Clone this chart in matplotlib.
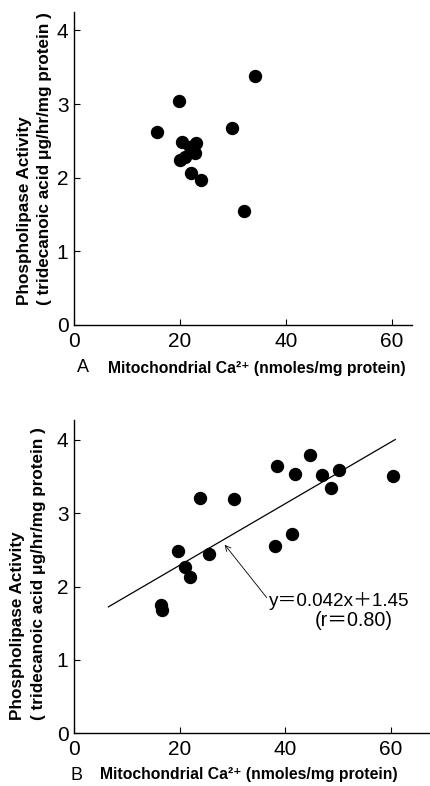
import matplotlib
matplotlib.use("Agg")
import matplotlib.pyplot as plt
import numpy as np

# panel A data
ax_a = [15.6, 19.9, 34.2, 29.8, 20.3, 23.1, 21.9, 22.8, 20.0, 20.9, 22.1, 23.9, 32.1]
ay_a = [2.62, 3.04, 3.38, 2.68, 2.49, 2.47, 2.42, 2.34, 2.24, 2.28, 2.07, 1.97, 1.55]

# panel B data
bx = [16.5, 16.6, 19.6, 21.0, 22.0, 23.9, 25.6, 30.2, 38.1, 38.4, 41.2, 41.9, 44.7, 46.9, 48.6, 50.1, 60.4]
by = [1.75, 1.68, 2.48, 2.27, 2.13, 3.21, 2.44, 3.19, 2.55, 3.64, 2.71, 3.53, 3.79, 3.52, 3.34, 3.59, 3.50]

# regression line given in the figure
slope = 0.042
intercept = 1.45
fit_x = [6.5, 60.8]

xticks = [0, 20, 40, 60]
yticks = [0, 1, 2, 3, 4]

BOLD = ['Liberation Sans', 'DejaVu Sans']
PLAIN = ['Liberation Sans', 'Noto Sans CJK JP', 'DejaVu Sans']

W, H = 430, 786
fig = plt.figure(figsize=(W/100, H/100), dpi=100)

def px(x0, y0, x1, y1):
    # pixel box -> figure fraction [left, bottom, width, height]
    return [x0/W, 1-y1/H, (x1-x0)/W, (y1-y0)/H]

def fit(t, length, vertical=False):
    # scale the font so the text spans about `length` pixels
    r = fig.canvas.get_renderer()
    bb = t.get_window_extent(r)
    cur = bb.height if vertical else bb.width
    t.set_fontsize(t.get_fontsize() * length / cur)
    return t.get_fontsize()

def style(ax, xmax, ymax):
    ax.set_xlim(0, xmax)
    ax.set_ylim(0, ymax)
    for s in ['top', 'right']:
        ax.spines[s].set_visible(False)
    for s in ['left', 'bottom']:
        ax.spines[s].set_linewidth(1.0)
    ax.set_xticks(xticks)
    ax.set_yticks(yticks)
    ax.tick_params(direction='in', length=4, width=0.8)
    ax.tick_params(axis='x', pad=5)
    ax.tick_params(axis='y', pad=4)
    for lab in ax.get_xticklabels() + ax.get_yticklabels():
        lab.set_family(PLAIN)
        lab.set_fontsize(15)

def labels(xl1, xl2, ybot, letter, lx, xstart, ymid):
    t2 = fig.text(xl2/W, 1-ybot/H, '( tridecanoic acid \u03bcg/hr/mg protein )', rotation=90,
                  ha='center', va='bottom', family=BOLD, fontweight='bold', fontsize=12)
    fs = fit(t2, 292, vertical=True)
    fig.text(xl1/W, 1-ybot/H, 'Phospholipase Activity', rotation=90, ha='center', va='bottom',
             family=BOLD, fontweight='bold', fontsize=fs)
    fig.text(lx/W, 1-ymid/H, letter, ha='left', va='center', family=PLAIN, fontsize=13)
    t3 = fig.text(xstart/W, 1-ymid/H, 'Mitochondrial Ca\u00b2\u207a (nmoles/mg protein)', ha='left',
                  va='center', family=BOLD, fontweight='bold', fontsize=12)
    fit(t3, 296)

# panel A
a1 = fig.add_axes(px(74, 12, 412, 325))
a1.plot(ax_a, ay_a, 'o', color='black', markersize=8.6)
style(a1, 63.8, 4.25)
labels(25, 45, 305, 'A', 77, 108, 368)

# panel B
b1 = fig.add_axes(px(74, 420, 429, 733.3))
b1.plot(bx, by, 'o', color='black', markersize=8.6)
fy = [slope*v + intercept for v in fit_x]
b1.plot(fit_x, fy, color='black', linewidth=0.9)
style(b1, 67.2, 4.27)
b1.annotate('', xy=(28.2, 2.60), xytext=(36.8, 1.82),
            arrowprops=dict(arrowstyle='->', color='black', lw=0.6))
eq = b1.text(36.9, 1.80, 'y\uff1d0.042x\uff0b1.45', ha='left', va='center', family=PLAIN, fontsize=13)
fit(eq, 140)
rr = b1.text(53.0, 1.54, '(r\uff1d0.80)', ha='center', va='center', family=PLAIN, fontsize=13)
fit(rr, 78)
labels(18, 39, 720, 'B', 70, 100, 775)

fig.savefig('out.png', dpi=100)
